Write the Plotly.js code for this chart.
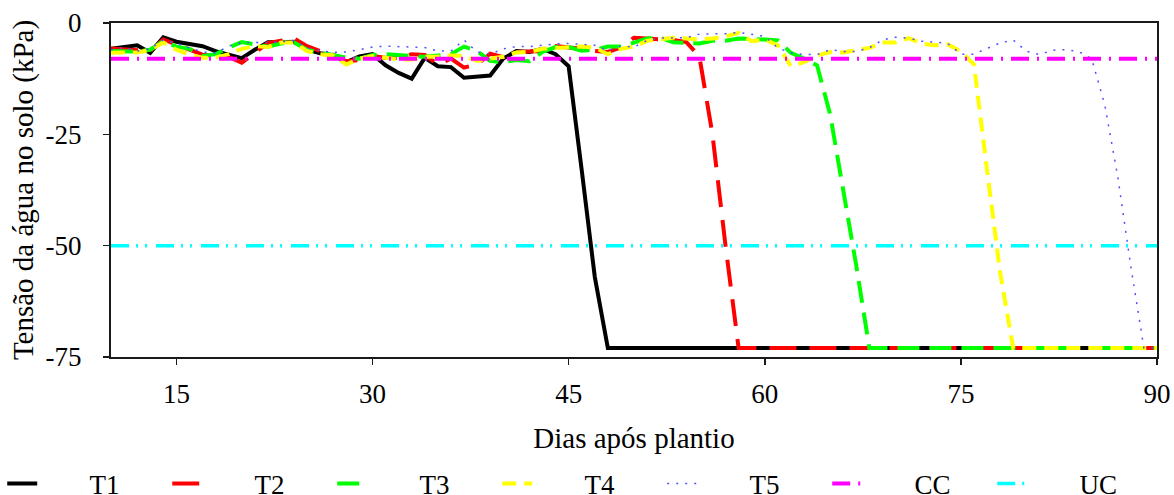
<!DOCTYPE html>
<html>
<head>
<meta charset="utf-8">
<script src="https://cdn.plot.ly/plotly-3.0.1.min.js"></script>
<style>html,body{margin:0;padding:0;background:#fff}#chart{width:1174px;height:495px}</style>
</head>
<body>
<div id="chart"></div>
<script>
// Days after planting (x)
var days = [10,11,12,13,14,15,16,17,18,19,20,21,22,23,24,25,26,27,28,29,30,31,32,33,34,35,36,37,38,39,40,41,42,43,44,45,46,47,48,49,50,51,52,53,54,55,56,57,58,59,60,61,62,63,64,65,66,67,68,69,70,71,72,73,74,75,76,77,78,79,80,81,82,83,84,85,86,87,88,89,90];

// Soil water tension (kPa) per treatment
var t1 = [-5.8,-5.5,-5.0,-6.7,-3.2,-4.2,-4.8,-5.2,-6.3,-7.0,-7.9,-6.0,-4.3,-4.3,-4.2,-6.0,-6.8,-7.3,-8.8,-7.5,-7.0,-9.5,-11.2,-12.5,-7.8,-9.7,-9.9,-12.3,-12.0,-11.8,-8.0,-6.3,-6.5,-5.8,-7.0,-9.7,-33,-57,-73,-73,-73,-73,-73,-73,-73,-73,-73,-73,-73,-73,-73,-73,-73,-73,-73,-73,-73,-73,-73,-73,-73,-73,-73,-73,-73,-73,-73,-73,-73,-73,-73,-73,-73,-73,-73,-73,-73,-73,-73,-73,-73];
var t2 = [-5.7,-5.9,-6.0,-6.3,-3.7,-4.8,-6.0,-7.1,-7.4,-7.6,-8.9,-6.8,-4.5,-4.0,-3.5,-5.2,-6.3,-7.1,-8.6,-8.3,-7.4,-7.8,-7.9,-7.0,-7.2,-9.3,-8.0,-10.0,-9.3,-6.9,-7.7,-6.5,-6.5,-6.3,-5.2,-5.4,-5.8,-6.3,-6.5,-5.5,-3.3,-3.5,-3.7,-3.8,-4.3,-7.5,-25,-50,-73,-73,-73,-73,-73,-73,-73,-73,-73,-73,-73,-73,-73,-73,-73,-73,-73,-73,-73,-73,-73,-73,-73,-73,-73,-73,-73,-73,-73,-73,-73,-73,-73];
var t3 = [-6.3,-6.4,-6.4,-6.0,-4.1,-5.3,-5.8,-7.4,-7.0,-5.5,-4.3,-4.8,-5.3,-4.6,-4.4,-6.0,-6.6,-7.4,-7.8,-8.0,-7.2,-7.0,-7.3,-7.4,-7.6,-7.4,-7.0,-5.3,-6.3,-8.5,-8.8,-8.3,-8.6,-6.5,-5.4,-5.4,-6.2,-6.0,-5.3,-5.3,-4.5,-3.5,-3.3,-4.3,-4.5,-4.6,-4.0,-4.0,-3.5,-3.5,-3.7,-3.9,-6.7,-8.0,-9.5,-20.5,-37.5,-54.5,-73,-73,-73,-73,-73,-73,-73,-73,-73,-73,-73,-73,-73,-73,-73,-73,-73,-73,-73,-73,-73,-73,-73];
var t4 = [-6.7,-6.6,-6.6,-6.0,-4.4,-6.0,-7.1,-7.8,-7.8,-7.0,-5.8,-5.2,-5.4,-4.4,-4.4,-6.3,-7.0,-7.3,-9.3,-8.0,-7.4,-7.8,-8.2,-8.2,-7.6,-7.5,-7.3,-7.4,-8.5,-8.0,-7.6,-6.6,-6.5,-5.8,-5.6,-5.6,-5.3,-5.5,-7.0,-5.8,-5.3,-4.0,-3.7,-3.3,-3.5,-3.7,-3.5,-3.0,-2.2,-4.1,-3.7,-5.0,-9.7,-8.8,-7.3,-6.5,-6.6,-6.0,-5.6,-4.4,-4.4,-3.4,-4.6,-5.0,-4.8,-6.4,-9.3,-33,-56,-73,-73,-73,-73,-73,-73,-73,-73,-73,-73,-73,-73];
var t5 = [-6.0,-5.5,-6.3,-5.8,-3.8,-4.6,-5.6,-6.5,-6.8,-5.2,-4.4,-4.4,-4.4,-4.2,-4.0,-5.6,-6.2,-6.6,-6.5,-6.0,-5.4,-5.2,-5.3,-5.3,-5.5,-6.3,-6.3,-3.8,-6.5,-7.0,-5.8,-5.3,-5.3,-5.0,-4.7,-4.6,-4.8,-5.0,-6.2,-5.2,-5.4,-3.9,-3.4,-3.4,-3.3,-2.5,-2.4,-2.4,-2.1,-2.5,-3.0,-5.6,-6.7,-7.1,-7.1,-6.0,-6.4,-6.4,-5.6,-3.8,-3.2,-3.4,-4.1,-4.3,-4.6,-7.0,-7.0,-5.7,-4.5,-3.8,-6.3,-7.1,-6.1,-6.0,-6.4,-8.0,-18.3,-34.5,-54.7,-73,-73];

// Reference limits (kPa): field capacity (CC) and critical moisture (UC)
var ccValue = -8;
var ucValue = -50;
var limitDays = [10, 90];

// Tick labels
var xTickVals = [15, 30, 45, 60, 75, 90];
var yTickVals = [0, -25, -50, -75];
var yTickText = ['0', '-25', '-50', '-75'];

var seriesNames = ['T1','T2','T3','T4','T5','CC','UC'];

var FONT = "'Liberation Serif', 'Times New Roman', serif";
var pad = '\u00a0\u00a0\u00a0\u00a0\u00a0\u00a0\u00a0';

function constant(v, n) { var a = []; for (var i = 0; i < n; i++) a.push(v); return a; }

var traces = [
  {x: days, y: t1, name: pad + seriesNames[0], mode: 'lines', line: {color: '#000000', width: 4}},
  {x: days, y: t2, name: pad + seriesNames[1], mode: 'lines', line: {color: '#ff0000', width: 4, dash: '27px,13px'}},
  {x: days, y: t3, name: pad + seriesNames[2], mode: 'lines', line: {color: '#00ff00', width: 4, dash: '22px,10px'}},
  {x: days, y: t4, name: pad + seriesNames[3], mode: 'lines', line: {color: '#ffff00', width: 4, dash: '14px,8px'}},
  {x: days, y: t5, name: pad + seriesNames[4], mode: 'lines', line: {color: '#5050ff', width: 1.5, dash: '2px,7px'}},
  {x: limitDays, y: constant(ccValue, limitDays.length), name: pad + seriesNames[5], mode: 'lines', line: {color: '#ff00ff', width: 4, dash: '18px,8px,2px,8px'}},
  {x: limitDays, y: constant(ucValue, limitDays.length), name: pad + seriesNames[6], mode: 'lines', line: {color: '#00ffff', width: 3.5, dash: '18px,7px,2px,7px,2px,9px'}}
];

var layout = {
  width: 1174, height: 495,
  margin: {l: 111, r: 17, t: 23, b: 138, autoexpand: false},
  paper_bgcolor: '#ffffff', plot_bgcolor: '#ffffff',
  font: {family: FONT, size: 27, color: '#000000'},
  showlegend: true,
  legend: {
    orientation: 'h', x: -0.104, xanchor: 'left', y: -0.38, yanchor: 'middle',
    entrywidth: 120, entrywidthmode: 'pixels',
    font: {family: FONT, size: 27, color: '#000000'},
    bgcolor: 'rgba(0,0,0,0)', itemclick: false
  },
  xaxis: {
    range: [10, 90], tickmode: 'array', tickvals: xTickVals,
    showgrid: false, zeroline: false,
    showline: true, mirror: true, linecolor: '#1a1a1a', linewidth: 2,
    ticks: 'outside', ticklen: 6, tickwidth: 1.5, tickcolor: '#1a1a1a',
    ticklabelstandoff: 6,
    tickfont: {family: FONT, size: 27, color: '#000000'},
    title: {text: 'Dias após plantio', font: {family: FONT, size: 29, color: '#000000'}, standoff: 19}
  },
  yaxis: {
    range: [-75, 0], tickmode: 'array', tickvals: yTickVals, ticktext: yTickText,
    showgrid: false, zeroline: false,
    showline: true, mirror: true, linecolor: '#1a1a1a', linewidth: 2,
    ticks: 'outside', ticklen: 6, tickwidth: 1.5, tickcolor: '#1a1a1a',
    ticklabelstandoff: 16,
    tickfont: {family: FONT, size: 27, color: '#000000'},
    title: {text: 'Tensão da água no solo (kPa)', font: {family: FONT, size: 29, color: '#000000'}, standoff: 3}
  }
};

Plotly.newPlot('chart', traces, layout, {displayModeBar: false, staticPlot: true});
</script>
</body>
</html>
